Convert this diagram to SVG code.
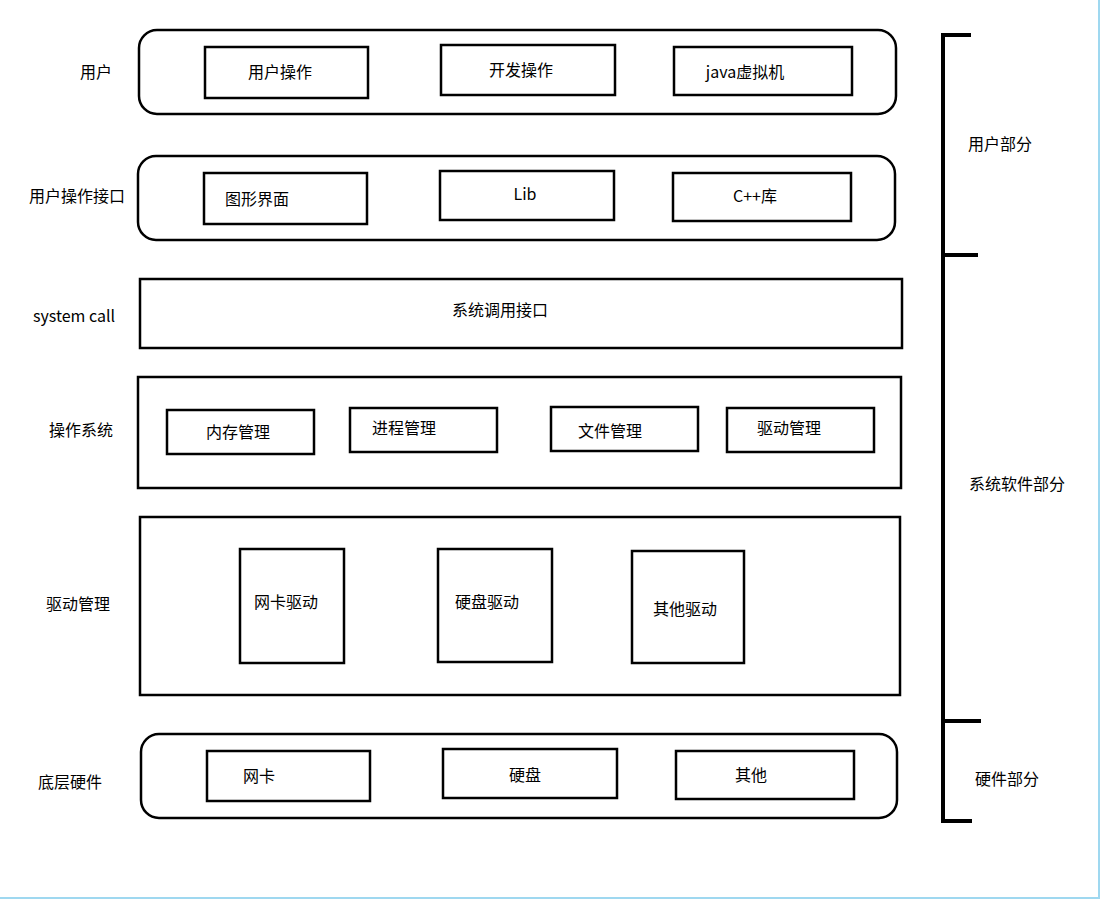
<svg xmlns="http://www.w3.org/2000/svg" width="1100" height="899" viewBox="0 0 1100 899">
<style>
.b{fill:#fff;stroke:#000;stroke-width:2.5}
text{font-family:"Noto Sans CJK SC","Liberation Sans",sans-serif;font-size:16px;fill:#000;text-anchor:middle;dominant-baseline:middle}
.br{stroke:#000;stroke-width:4;fill:none}
</style>
<rect width="1100" height="899" fill="#fff"/>
<line x1="0" y1="898" x2="1100" y2="898" stroke="#9fd8f0" stroke-width="2"/>
<line x1="1099" y1="0" x2="1099" y2="899" stroke="#9fd8f0" stroke-width="2"/>
<g id="row1"><rect class="b" x="139" y="30" width="757" height="84" rx="18"/><text x="96" y="74">用户</text></g>
<g id="n1"><rect class="b" x="205" y="47" width="163" height="51"/><text x="280" y="74">用户操作</text></g>
<g id="n2"><rect class="b" x="441" y="45" width="174" height="50"/><text x="521" y="72">开发操作</text></g>
<g id="n3"><rect class="b" x="674" y="47" width="178" height="48"/><text x="745" y="74">java虚拟机</text></g>
<g id="row2"><rect class="b" x="138" y="156" width="757" height="84" rx="18"/><text x="77" y="198">用户操作接口</text></g>
<g id="n4"><rect class="b" x="204" y="173" width="163" height="51"/><text x="257" y="201">图形界面</text></g>
<g id="n5"><rect class="b" x="440" y="171" width="174" height="49"/><text x="525" y="196">Lib</text></g>
<g id="n6"><rect class="b" x="673" y="173" width="178" height="48"/><text x="755" y="198">C++库</text></g>
<g id="row3"><rect class="b" x="140" y="279" width="762" height="69"/><text x="500" y="312">系统调用接口</text><text x="74" y="318">system call</text></g>
<g id="row4"><rect class="b" x="138" y="377" width="763" height="111"/><text x="81" y="432">操作系统</text></g>
<g id="n7"><rect class="b" x="167" y="410" width="147" height="44"/><text x="238" y="434">内存管理</text></g>
<g id="n8"><rect class="b" x="350" y="408" width="147" height="44"/><text x="404" y="430">进程管理</text></g>
<g id="n9"><rect class="b" x="551" y="407" width="147" height="44"/><text x="610" y="433">文件管理</text></g>
<g id="n10"><rect class="b" x="727" y="408" width="147" height="44"/><text x="789" y="430">驱动管理</text></g>
<g id="row5"><rect class="b" x="140" y="517" width="760" height="178"/><text x="78" y="606">驱动管理</text></g>
<g id="n11"><rect class="b" x="240" y="549" width="104" height="114"/><text x="286" y="604">网卡驱动</text></g>
<g id="n12"><rect class="b" x="438" y="549" width="114" height="113"/><text x="487" y="604">硬盘驱动</text></g>
<g id="n13"><rect class="b" x="632" y="551" width="112" height="112"/><text x="685" y="611">其他驱动</text></g>
<g id="row6"><rect class="b" x="141" y="734" width="756" height="84" rx="18"/><text x="70" y="784">底层硬件</text></g>
<g id="n14"><rect class="b" x="207" y="751" width="163" height="50"/><text x="259" y="778">网卡</text></g>
<g id="n15"><rect class="b" x="443" y="749" width="174" height="49"/><text x="525" y="777">硬盘</text></g>
<g id="n16"><rect class="b" x="676" y="751" width="178" height="48"/><text x="751" y="777">其他</text></g>
<g id="connectors">
<path class="br" d="M943 35V821M941 35H971M943 255H978M943 721H981M941 821H972"/>
</g>
<text x="1000" y="146">用户部分</text>
<text x="1017" y="486">系统软件部分</text>
<text x="1007" y="781">硬件部分</text>
</svg>
